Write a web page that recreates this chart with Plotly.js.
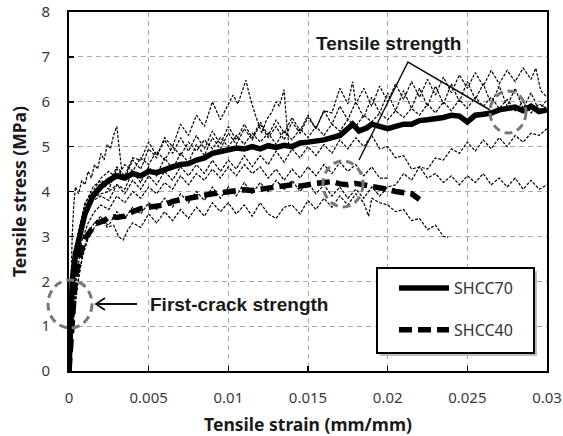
<!DOCTYPE html>
<html>
<head>
<meta charset="utf-8">
<script src="https://cdn.plot.ly/plotly-3.0.1.min.js"></script>
<style>html,body{margin:0;padding:0;background:#fff;}#chart{width:563px;height:436px;}</style>
</head>
<body>
<div id="chart"></div>
<script>
// ---- data ----
const xTickVals = [0, 0.005, 0.01, 0.015, 0.02, 0.025, 0.03];
const xTickText = ["0", "0.005", "0.01", "0.015", "0.02", "0.025", "0.03"];
const yTickVals = [0, 1, 2, 3, 4, 5, 6, 7, 8];

// specimen curves (thin dashed)
const s1x = [0,0.0001,0.0002,0.0003,0.0004,0.0006,0.0008,0.001,0.0012,0.0014,0.0016,0.0018,0.002,0.0022,0.0024,0.0026,0.0028,0.003,0.0031,0.0032,0.0033];
const s1y = [0,1.8,3.0,3.7,4.1,3.95,4.25,4.15,4.45,4.3,4.6,4.5,4.85,4.7,5.05,4.95,5.25,5.45,5.1,4.8,4.5];

const s2x = [0,0.0002,0.0005,0.001,0.0015,0.002,0.0025,0.003,0.0035,0.004,0.0045,0.005,0.0055,0.006,0.0065,0.007,0.0075,0.008,0.0085,0.009,0.0095,0.01,0.0103,0.0106,0.0109,0.0111,0.0114,0.0117,0.0121,0.0124,0.0127,0.013,0.0132,0.0135,0.0136,0.0138];
const s2y = [0,1.5,2.8,3.6,3.95,4.2,4.05,4.5,4.3,4.7,4.5,4.95,4.75,5.2,5.0,5.5,5.25,5.7,5.45,6.0,5.6,5.95,6.15,5.95,6.3,6.48,6.05,5.7,5.3,5.6,5.75,6.0,5.9,6.27,5.8,5.0];

const s3x = [0,0.0003,0.0006,0.001,0.0015,0.002,0.0025,0.003,0.0035,0.004,0.0045,0.005,0.0055,0.006,0.0065,0.007,0.0075,0.008,0.0085,0.009,0.0095,0.01,0.0105,0.011,0.0115,0.012,0.0125,0.013,0.0135,0.014,0.0145,0.015,0.0155,0.016,0.0165,0.017,0.0175,0.0178,0.018,0.0185,0.019,0.0195,0.02,0.0205,0.021,0.0215,0.022,0.0225,0.023,0.0235,0.024,0.0245,0.025,0.0255,0.026,0.0265,0.027,0.0275,0.028,0.0285,0.029,0.0293,0.0296,0.03];
const s3y = [0,1.8,2.9,3.4,3.85,3.95,4.0,4.15,4.05,4.45,4.2,4.55,4.35,4.75,4.5,4.85,4.65,5.05,4.8,5.2,4.95,5.3,5.05,5.4,5.15,5.5,5.2,5.45,5.15,5.55,5.3,5.65,5.4,5.8,5.75,6.3,5.95,6.45,5.95,6.3,5.9,6.35,6.0,6.4,6.05,6.45,6.1,6.5,6.15,6.55,6.2,6.6,6.3,6.65,6.35,6.7,6.4,6.7,6.45,6.75,6.5,6.75,6.25,6.1];

const s4x = [0,0.0003,0.0006,0.001,0.0015,0.002,0.0025,0.003,0.0035,0.004,0.0045,0.005,0.0055,0.006,0.0065,0.007,0.0075,0.008,0.0085,0.009,0.0095,0.01,0.0105,0.011,0.0115,0.012,0.0125,0.013,0.0135,0.014,0.0145,0.015,0.0155,0.016,0.0165,0.017,0.0175,0.018,0.0185,0.019,0.0195,0.02,0.0205,0.021,0.0215,0.022,0.0225,0.023,0.0235,0.024,0.0245,0.025,0.0255,0.026,0.0265,0.027,0.0275,0.028,0.0285,0.029,0.0295,0.03];
const s4y = [0,2.0,3.1,3.7,4.1,4.25,4.15,4.55,4.35,4.75,4.7,5.1,4.8,5.15,4.85,5.2,4.9,5.25,4.95,5.35,5.05,5.45,5.15,5.5,5.2,5.55,5.25,5.6,5.3,5.65,5.35,5.7,5.4,5.8,5.5,5.9,5.6,6.0,5.65,6.1,5.75,6.2,5.8,6.25,5.85,6.3,5.9,6.35,5.95,6.4,6.0,6.45,6.05,6.4,5.95,6.35,5.9,6.3,5.85,6.2,5.8,6.05];

const s5x = [0,0.0004,0.0008,0.0012,0.0016,0.002,0.0025,0.003,0.0035,0.004,0.0045,0.005,0.0055,0.006,0.0065,0.007,0.0075,0.008,0.0085,0.009,0.0095,0.01,0.0105,0.011,0.0115,0.012,0.0125,0.013,0.0135,0.014,0.0145,0.015,0.0155,0.016,0.0165,0.017,0.0175,0.018,0.0185,0.019,0.0195,0.02,0.0205,0.021,0.0215,0.022,0.0225,0.023,0.0235,0.024,0.0245,0.025,0.0255,0.026,0.0265,0.027,0.0275,0.028,0.0285,0.029,0.0295,0.03];
const s5y = [0,1.6,2.5,2.95,3.2,3.35,3.25,3.55,3.4,3.65,3.5,3.75,3.6,3.85,3.65,3.95,3.75,4.0,3.8,4.1,3.85,4.1,3.9,4.2,3.95,4.2,4.0,4.25,4.05,4.25,4.0,4.2,3.95,4.15,3.9,4.1,3.85,4.05,3.85,4.1,3.9,4.1,4.15,4.4,4.25,4.55,4.5,4.75,4.7,4.95,4.85,5.1,4.9,5.15,4.95,5.2,5.0,5.25,5.1,5.3,5.25,5.4];

const s6x = [0,0.0003,0.0006,0.001,0.0015,0.002,0.0025,0.003,0.0035,0.004,0.0045,0.005,0.0055,0.006,0.0065,0.007,0.0075,0.008,0.0085,0.009,0.0095,0.01,0.0105,0.011,0.0115,0.012,0.0125,0.013,0.0135,0.014,0.0145,0.015,0.0155,0.016,0.0165,0.017,0.0175,0.018,0.0185,0.019,0.0195,0.02,0.0205,0.021,0.0215,0.022,0.0225,0.023,0.0235,0.024,0.0245,0.025,0.0255,0.026,0.0265,0.027,0.0275,0.028,0.0285,0.029,0.0295,0.03];
const s6y = [0,1.7,2.8,3.4,3.8,3.9,3.8,4.15,3.95,4.25,4.05,4.35,4.15,4.45,4.25,4.55,4.35,4.6,4.4,4.7,4.45,4.7,4.5,4.8,4.55,4.8,4.6,4.9,4.65,4.95,4.75,5.0,4.8,5.05,4.85,5.15,4.95,5.2,5.0,5.25,4.95,5.0,4.75,4.8,4.5,4.55,4.3,4.4,4.2,4.35,4.15,4.35,4.2,4.4,4.15,4.3,4.1,4.3,4.05,4.25,4.05,4.15];

const s7x = [0,0.0003,0.0006,0.001,0.0013,0.0016,0.002,0.0024,0.0028,0.0031,0.0034,0.0037,0.004,0.0045,0.005,0.0055,0.006,0.0065,0.007,0.0075,0.008,0.0085,0.009,0.0095,0.01,0.0105,0.011,0.0115,0.012,0.0125,0.013,0.0135,0.014,0.0145,0.015,0.0155,0.016,0.0165,0.017,0.0175,0.018,0.0185,0.0188,0.019,0.0195,0.02,0.0205,0.021,0.0215,0.022,0.0225,0.023,0.0235,0.0238];
const s7y = [0,1.2,2.1,2.8,3.15,3.3,3.45,3.2,3.25,3.0,2.92,3.15,3.3,3.2,3.5,3.3,3.55,3.35,3.6,3.4,3.65,3.45,3.75,3.55,3.75,3.5,3.7,3.45,3.75,3.5,3.4,3.65,3.7,3.5,3.8,3.6,3.85,3.65,3.9,3.7,3.95,3.75,3.45,3.85,3.75,3.7,3.55,3.6,3.35,3.4,3.15,3.25,3.0,2.98];

const s8x = [0,0.0004,0.0008,0.0012,0.0016,0.002,0.0025,0.003,0.0035,0.004,0.0045,0.005,0.0055,0.006,0.0065,0.007,0.0075,0.008,0.0085,0.009,0.0095,0.01,0.0105,0.011,0.0115,0.012,0.0125,0.013,0.0135,0.014,0.0145,0.015,0.0155,0.016,0.0165,0.017,0.0175,0.018,0.0185,0.019,0.0195,0.02];
const s8y = [0,1.9,2.9,3.3,3.55,3.7,3.6,3.9,3.75,4.0,3.85,4.1,3.95,4.2,4.05,4.35,4.15,4.4,4.25,4.5,4.3,4.55,4.35,4.6,4.4,4.55,4.3,4.5,4.25,4.5,4.3,4.55,4.35,4.6,4.4,4.65,4.45,4.6,4.35,4.55,4.3,4.3];

const s9x = [0,0.0002,0.0005,0.001,0.0015,0.002,0.0025,0.003,0.0035,0.004,0.0045,0.005,0.0055,0.006,0.0065,0.007,0.0075,0.008,0.0085,0.009,0.0095,0.01,0.0105,0.011,0.0115,0.012,0.0125,0.013,0.0135,0.014,0.0145,0.015,0.0155,0.016,0.0165,0.017,0.0175,0.018,0.0185,0.019,0.0195,0.02,0.0205,0.021,0.0215,0.022,0.0225,0.023,0.0235,0.024,0.0245,0.025,0.0255,0.026,0.0265,0.027,0.0275,0.028,0.0285,0.029,0.0295,0.03];
const s9y = [0,1.6,2.9,3.75,4.0,4.3,4.45,4.3,4.6,4.45,4.75,4.6,4.9,4.7,5.0,4.8,5.1,4.9,5.15,4.95,5.2,5.0,5.25,5.05,5.3,5.1,5.3,5.05,5.35,5.15,5.4,5.2,5.45,5.25,5.5,5.35,5.6,5.45,5.7,5.55,5.75,5.6,5.8,5.65,5.85,5.7,5.95,5.75,6.0,5.8,6.05,5.85,6.1,5.9,6.1,5.85,6.05,5.8,6.0,5.75,5.95,5.85];

// averages (thick)
const shcc70x = [0,0.0001,0.0002,0.0004,0.0007,0.001,0.0015,0.002,0.0025,0.003,0.0035,0.004,0.0045,0.005,0.0055,0.006,0.0065,0.007,0.0075,0.008,0.0085,0.009,0.0095,0.01,0.0105,0.011,0.0115,0.012,0.0125,0.013,0.0135,0.014,0.0145,0.015,0.0155,0.016,0.0165,0.017,0.0175,0.0178,0.0182,0.0187,0.019,0.0195,0.02,0.0205,0.021,0.0215,0.022,0.0225,0.023,0.0235,0.024,0.0245,0.025,0.0255,0.026,0.0265,0.027,0.0275,0.028,0.0285,0.029,0.0295,0.03];
const shcc70y = [0,1.2,2.0,2.6,3.1,3.5,3.9,4.1,4.25,4.35,4.3,4.4,4.35,4.45,4.42,4.5,4.55,4.6,4.62,4.7,4.75,4.85,4.9,4.93,4.97,4.95,5.0,4.95,5.02,4.98,5.03,5.0,5.08,5.1,5.12,5.15,5.2,5.25,5.4,5.5,5.35,5.42,5.5,5.45,5.4,5.45,5.5,5.5,5.58,5.6,5.62,5.65,5.7,5.68,5.55,5.7,5.72,5.75,5.82,5.85,5.88,5.8,5.9,5.78,5.82];

const shcc40x = [0,0.0002,0.0004,0.0007,0.001,0.0014,0.0018,0.0022,0.0026,0.003,0.0035,0.004,0.0045,0.005,0.0055,0.006,0.0065,0.007,0.0075,0.008,0.0085,0.009,0.0095,0.01,0.0105,0.011,0.0115,0.012,0.0125,0.013,0.0135,0.014,0.0145,0.015,0.0155,0.016,0.0165,0.017,0.0175,0.018,0.0185,0.019,0.0195,0.02,0.0205,0.021,0.0215,0.022];
const shcc40y = [0,1.3,2.1,2.6,2.95,3.15,3.3,3.35,3.45,3.42,3.45,3.55,3.62,3.65,3.68,3.7,3.78,3.82,3.85,3.87,3.92,3.95,3.97,3.98,4.02,4.04,4.02,4.05,4.07,4.08,4.12,4.15,4.12,4.16,4.18,4.2,4.22,4.17,4.15,4.18,4.15,4.12,4.1,4.05,4.0,3.98,3.95,3.82];

const specimens = [[s1x,s1y],[s2x,s2y],[s3x,s3y],[s4x,s4y],[s5x,s5y],[s6x,s6y],[s7x,s7y],[s8x,s8y],[s9x,s9y]];

// ---- traces ----
const traces = specimens.map(function(s){
  return {x: s[0], y: s[1], mode: 'lines', showlegend: false, hoverinfo: 'skip',
          line: {color: '#000', width: 1.2, dash: '3px,1.5px'}};
});
traces.push({x: shcc70x, y: shcc70y, mode: 'lines', name: 'SHCC70', legendgroup: 'a',
             line: {color: '#000', width: 5.5}});
traces.push({x: shcc40x, y: shcc40y, mode: 'lines', name: 'SHCC40', legendgroup: 'b',
             line: {color: '#000', width: 5.5, dash: '13px,6px'}});

// paper-coordinate helpers for annotation graphics
const PL = 69, PW = 478, PB = 371, PH = 359;
function px(v){ return (v - PL) / PW; }
function py(v){ return (PB - v) / PH; }

const gridStyle = {gridcolor: '#a8a8a8', griddash: '5px,4px', gridwidth: 1};

const layout = {
  width: 563, height: 436,
  margin: {l: PL, r: 16, t: 12, b: 65},
  paper_bgcolor: '#fff', plot_bgcolor: '#fff',
  font: {family: 'Noto Sans, sans-serif', color: '#333'},
  xaxis: Object.assign({
    range: [0, 0.03], tickvals: xTickVals, ticktext: xTickText,
    showline: true, linecolor: '#000', linewidth: 2, mirror: true,
    ticks: 'inside', ticklen: 5, tickwidth: 1.5, tickcolor: '#000',
    ticklabelstandoff: 12, zeroline: false,
    tickfont: {family: 'Noto Sans, sans-serif', size: 15, color: '#3a3a3a'},
    title: {text: 'Tensile strain (mm/mm)', standoff: 15,
            font: {family: 'Noto Sans, sans-serif', size: 17.5, weight: 'bold', color: '#1a1a1a'}}
  }, gridStyle),
  yaxis: Object.assign({
    range: [0, 8], tickvals: yTickVals,
    showline: true, linecolor: '#000', linewidth: 2, mirror: true,
    ticks: 'inside', ticklen: 5, tickwidth: 1.5, tickcolor: '#000',
    ticklabelstandoff: 14, zeroline: false,
    tickfont: {family: 'Noto Sans, sans-serif', size: 15, color: '#3a3a3a'},
    title: {text: 'Tensile stress (MPa)', standoff: 10,
            font: {family: 'Noto Sans, sans-serif', size: 17.5, weight: 'bold', color: '#1a1a1a'}}
  }, gridStyle),
  showlegend: true,
  legend: {x: px(394), y: py(271), xanchor: 'left', yanchor: 'top',
           bgcolor: 'rgba(0,0,0,0)', borderwidth: 0, tracegroupgap: 18,
           traceorder: 'grouped', itemwidth: 50,
           font: {family: 'Noto Sans, sans-serif', size: 16, color: '#333'}},
  shapes: [
    // legend shadow + box
    {type: 'rect', xref: 'paper', yref: 'paper', x0: px(380), x1: px(537), y0: py(356), y1: py(271),
     fillcolor: '#bdbdbd', line: {width: 0}, layer: 'above'},
    {type: 'rect', xref: 'paper', yref: 'paper', x0: px(377), x1: px(534), y0: py(353), y1: py(268),
     fillcolor: '#fff', line: {color: '#000', width: 2}, layer: 'above'},
    // tensile strength leader lines
    {type: 'path', xref: 'paper', yref: 'paper',
     path: 'M' + px(359) + ',' + py(160) + 'L' + px(408) + ',' + py(62) + 'L' + px(490) + ',' + py(110),
     line: {color: '#111', width: 1.5}, layer: 'above'},
    // dashed circles
    {type: 'circle', xref: 'paper', yref: 'paper', x0: px(323), x1: px(363), y0: py(207), y1: py(161),
     line: {color: '#777', width: 3, dash: '8px,5px'}, layer: 'above'},
    {type: 'circle', xref: 'paper', yref: 'paper', x0: px(490), x1: px(526), y0: py(133), y1: py(91),
     line: {color: '#777', width: 3, dash: '8px,5px'}, layer: 'above'},
    {type: 'circle', xref: 'paper', yref: 'paper', x0: px(48), x1: px(92), y0: py(328), y1: py(280),
     line: {color: '#777', width: 3, dash: '8px,5px'}, layer: 'above'},
    // first-crack arrow
    {type: 'path', xref: 'paper', yref: 'paper',
     path: 'M' + px(137) + ',' + py(304) + 'L' + px(96) + ',' + py(304) +
           'M' + px(105) + ',' + py(298) + 'L' + px(96) + ',' + py(304) + 'L' + px(105) + ',' + py(310),
     line: {color: '#111', width: 1.8}, layer: 'above'}
  ],
  annotations: [
    {xref: 'paper', yref: 'paper', x: px(388), y: py(43), xanchor: 'center', yanchor: 'middle',
     text: 'Tensile strength', showarrow: false,
     font: {family: 'Liberation Sans, Arial, sans-serif', size: 19, weight: 'bold', color: '#1a1a1a'}},
    {xref: 'paper', yref: 'paper', x: px(239), y: py(304), xanchor: 'center', yanchor: 'middle',
     text: 'First-crack strength', showarrow: false,
     font: {family: 'Liberation Sans, Arial, sans-serif', size: 19, weight: 'bold', color: '#1a1a1a'}}
  ]
};

Plotly.newPlot('chart', traces, layout, {displayModeBar: false, staticPlot: true});
</script>
</body>
</html>
